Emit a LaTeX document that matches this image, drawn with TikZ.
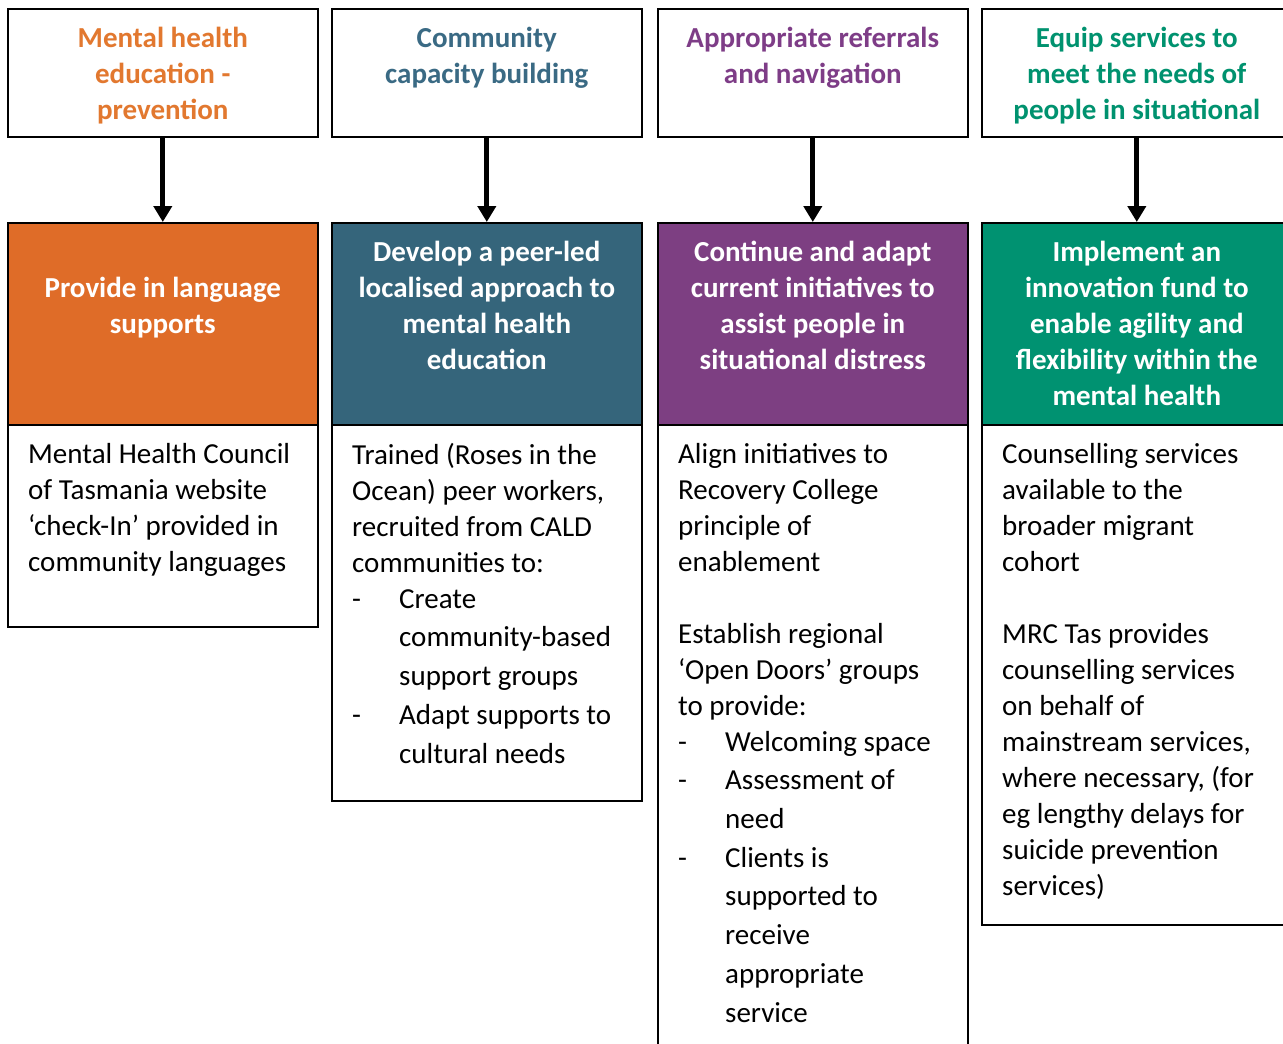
\documentclass[tikz,border=0pt]{standalone}
\usepackage{fontspec}
\setmainfont{Carlito}
\usepackage{tikz}
\usetikzlibrary{arrows.meta}

\definecolor{orgfill}{HTML}{DF6C28}
\definecolor{orgtext}{HTML}{E2782F}
\definecolor{tealfill}{HTML}{35657B}
\definecolor{tealtext}{HTML}{3A6A84}
\definecolor{purpfill}{HTML}{7D3F82}
\definecolor{purptext}{HTML}{7E3D87}
\definecolor{grnfill}{HTML}{009271}
\definecolor{grntext}{HTML}{00926F}

\newcommand{\dashitem}[1]{\makebox[47pt][l]{-}#1}
\newcommand{\dashcont}[1]{\hspace*{47pt}#1}

\begin{document}
\begin{tikzpicture}[x=1pt, y=-1pt,
  box/.style={draw=black, line width=1.6pt, minimum width=310pt, inner sep=0pt, anchor=north west},
  headtext/.style={font=\bfseries\fontsize{29}{36}\selectfont, align=center, anchor=north, inner sep=0pt, execute at begin node=\strut},
  bodytext/.style={font=\fontsize{29}{36}\selectfont, align=left, anchor=north west, inner sep=0pt, execute at begin node=\strut},
  link/.style={line width=5pt, -{Triangle[width=18pt,length=16pt]}}]
\useasboundingbox (0,0) rectangle (1283,1044);
\clip (0,0) rectangle (1283,1044);
\fill [white] (0,0) rectangle (1283,1044);

\foreach \i/\x/\c/\h in {1/7/orgfill/202pt, 2/331/tealfill/376pt, 3/657/purpfill/660pt, 4/981/grnfill/500pt} {
  \node [box, minimum height=128pt] (aim\i) at (\x,8) {};
  \node [box, fill=\c, minimum height=202pt] (act\i) at (\x,222) {};
  \node [box, minimum height=\h] (det\i) at (\x,424) {};
}
\foreach \i in {1,...,4}
  \draw [link] (aim\i) -- (act\i);

\node [headtext, orgtext] (aimtext1) at ([yshift=-18.8pt]aim1.north) {Mental health\\education -\\prevention};
\node [headtext, tealtext] (aimtext2) at ([yshift=-18.8pt]aim2.north) {Community\\capacity building};
\node [headtext, purptext] (aimtext3) at ([yshift=-18.8pt]aim3.north) {Appropriate referrals\\and navigation};
\node [headtext, grntext] (aimtext4) at ([yshift=-18.8pt]aim4.north) {Equip services to\\meet the needs of\\people in situational};

\node [headtext, white] (acttext1) at ([yshift=-54.8pt]act1.north) {Provide in language\\supports};
\node [headtext, white] (acttext2) at ([yshift=-18.8pt]act2.north) {Develop a peer-led\\localised approach to\\mental health\\education};
\node [headtext, white] (acttext3) at ([yshift=-18.8pt]act3.north) {Continue and adapt\\current initiatives to\\assist people in\\situational distress};
\node [headtext, white] (acttext4) at ([yshift=-18.8pt]act4.north) {Implement an\\innovation fund to\\enable agility and\\flexibility within the\\mental health};

\node [bodytext] (dettext1) at ([xshift=21pt,yshift=-18.8pt]det1.north west)
  {Mental Health Council\\of Tasmania website\\‘check-In’ provided in\\community languages};
\node [bodytext] (dettext2) at ([xshift=21pt,yshift=-18.8pt]det2.north west)
  {Trained (Roses in the\\Ocean) peer workers,\\recruited from CALD\\communities to:\\
   \dashitem{Create}\\[2.7pt]\dashcont{community-based}\\[2.7pt]\dashcont{support groups}\\[2.7pt]
   \dashitem{Adapt supports to}\\[2.7pt]\dashcont{cultural needs}};
\node [bodytext] (dettext3) at ([xshift=21pt,yshift=-18.8pt]det3.north west)
  {Align initiatives to\\Recovery College\\principle of\\enablement\\[36pt]
   Establish regional\\‘Open Doors’ groups\\to provide:\\
   \dashitem{Welcoming space}\\[2.7pt]\dashitem{Assessment of}\\[2.7pt]\dashcont{need}\\[2.7pt]
   \dashitem{Clients is}\\[2.7pt]\dashcont{supported to}\\[2.7pt]\dashcont{receive}\\[2.7pt]
   \dashcont{appropriate}\\[2.7pt]\dashcont{service}};
\node [bodytext] (dettext4) at ([xshift=21pt,yshift=-18.8pt]det4.north west)
  {Counselling services\\available to the\\broader migrant\\cohort\\[36pt]
   MRC Tas provides\\counselling services\\on behalf of\\mainstream services,\\where necessary, (for\\eg lengthy delays for\\suicide prevention\\services)};
\end{tikzpicture}
\end{document}
